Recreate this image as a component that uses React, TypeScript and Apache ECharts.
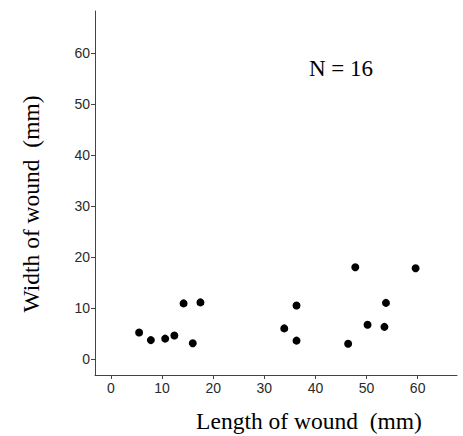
import React, { useEffect, useRef } from "react";
import * as echarts from "echarts";

const lengthMm = [5.5, 7.8, 10.6, 12.4, 14.2, 16.0, 17.5, 33.9, 36.3, 36.3, 46.4, 47.8, 50.2, 53.5, 53.8, 59.6];
const widthMm = [5.2, 3.7, 4.0, 4.6, 10.9, 3.1, 11.1, 6.0, 10.5, 3.6, 3.0, 18.0, 6.7, 6.3, 11.0, 17.8];
const tickValues = [0, 10, 20, 30, 40, 50, 60];
const xTitle = "Length of wound  (mm)";
const yTitle = "Width of wound  (mm)";
const annotation = "N = 16";

export default function App() {
  const ref = useRef<HTMLDivElement>(null);
  useEffect(() => {
    if (!ref.current) return;
    const chart = echarts.init(ref.current, null, { renderer: "svg" });
    const data = lengthMm.map((x, i) => [x, widthMm[i]]);
    const axisCommon = {
      axisLine: { show: true, onZero: false, lineStyle: { color: "#444", width: 1 } },
      axisTick: { show: true, inside: false, length: 4, lineStyle: { color: "#444" }, customValues: tickValues },
      axisLabel: {
        show: true,
        color: "#2a2a2a",
        fontFamily: "Liberation Sans, Arial, sans-serif",
        fontSize: 14,
        customValues: tickValues,
      },
      splitLine: { show: false },
    };
    chart.setOption({
      animation: false,
      backgroundColor: "#ffffff",
      grid: { left: 95, top: 11, right: 6, bottom: 61, containLabel: false },
      xAxis: {
        type: "value",
        min: -3.13,
        max: 67.7,
        ...axisCommon,
        axisLabel: { ...axisCommon.axisLabel, margin: 6 },
      },
      yAxis: {
        type: "value",
        min: -3.14,
        max: 68.24,
        ...axisCommon,
        axisLabel: { ...axisCommon.axisLabel, margin: 5 },
      },
      series: [
        {
          type: "scatter",
          data,
          symbol: "circle",
          symbolSize: 8,
          itemStyle: { color: "#000000", opacity: 1 },
        },
      ],
      graphic: [
        {
          type: "text",
          x: 309,
          y: 421,
          style: {
            text: xTitle,
            fontFamily: "Liberation Serif, Times New Roman, serif",
            fontSize: 23.5,
            fill: "#000",
            textAlign: "center",
            textVerticalAlign: "middle",
          },
        },
        {
          type: "text",
          x: 31,
          y: 204,
          rotation: Math.PI / 2,
          style: {
            text: yTitle,
            fontFamily: "Liberation Serif, Times New Roman, serif",
            fontSize: 23.5,
            fill: "#000",
            textAlign: "center",
            textVerticalAlign: "middle",
          },
        },
        {
          type: "text",
          x: 341,
          y: 68,
          style: {
            text: annotation,
            fontFamily: "Liberation Serif, Times New Roman, serif",
            fontSize: 23,
            fill: "#000",
            textAlign: "center",
            textVerticalAlign: "middle",
          },
        },
      ],
    });
    return () => chart.dispose();
  }, []);
  return (
    <div
      ref={ref}
      style={{ position: "absolute", left: 0, top: 0, width: 463, height: 436 }}
    />
  );
}
